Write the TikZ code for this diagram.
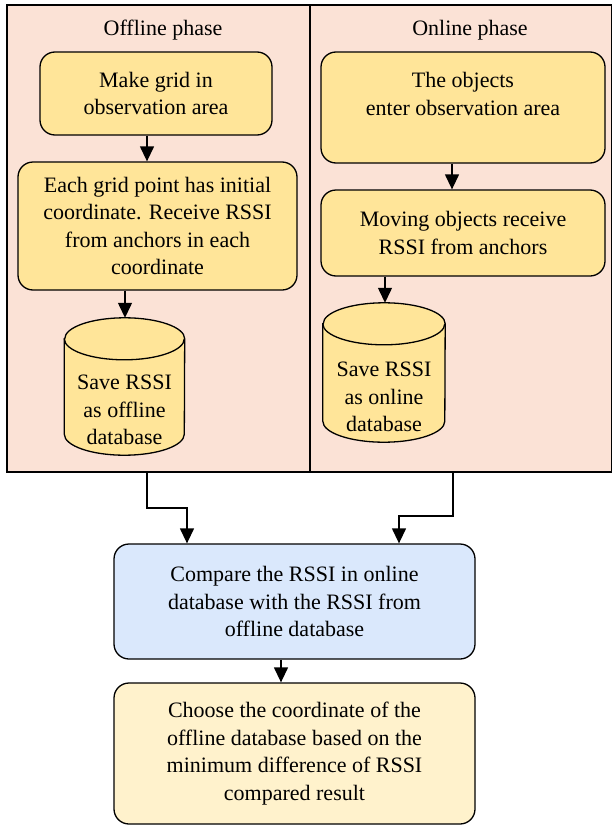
\documentclass[tikz,border=0pt]{standalone}
\usepackage{fontspec}
\setmainfont{Liberation Serif}
\usetikzlibrary{arrows.meta}
\definecolor{phasebg}{HTML}{FBE2D6}
\definecolor{stepfill}{HTML}{FFE599}
\definecolor{cmpfill}{HTML}{DAE8FC}
\definecolor{resfill}{HTML}{FFF2CC}
\tikzset{
  phase/.style={draw, line width=1.5pt, fill=phasebg, inner sep=0pt},
  proc/.style={draw, line width=1.3pt, rounded corners=15pt, fill=stepfill, align=center, inner sep=0pt},
  dbbox/.style={inner sep=0pt},
  dbline/.style={draw, line width=1.3pt, fill=stepfill},
  arr/.style={line width=1.3pt, -{Triangle[width=14pt,length=15pt]}},
}

\begin{document}
\begin{tikzpicture}[x=1pt, y=-1pt, every node/.style={font=\fontsize{22}{27.5}\selectfont}]
    \useasboundingbox (0,0) rectangle (612,827);
    \node[phase, minimum width=303, minimum height=467] (offline) at (158.5,238.5) {};
    \node[phase, minimum width=302, minimum height=467] (online) at (461,238.5) {};
    \node (offtitle) at (163,30) {Offline phase};
    \node (ontitle) at (470,30) {Online phase};

    \node[proc, minimum width=232, minimum height=83] (grid) at (156,93.5) {Make grid in\\observation area};
    \node[proc, minimum width=279, minimum height=128] (recoff) at (157.5,226) {Each grid point has initial\\coordinate. Receive RSSI\\from anchors in each\\coordinate};
    \node[dbbox, minimum width=120, minimum height=137] (dboff) at (124.5,386.5) {};
    \path[dbline] ([yshift=-21pt]dboff.north west) -- ([yshift=21pt]dboff.south west)
        arc[start angle=180, end angle=360, x radius=60pt, y radius=21pt]
        -- ([yshift=-21pt]dboff.north east)
        arc[start angle=0, end angle=180, x radius=60pt, y radius=21pt] -- cycle;
    \draw[line width=1.3pt] ([yshift=-21pt]dboff.north west) arc[start angle=180, end angle=360, x radius=60pt, y radius=21pt];
    \node[align=center] (dbofftext) at (124.5,410) {Save RSSI\\as offline\\database};

    \node[proc, minimum width=284, minimum height=111] (enter) at (463,107.5) {The objects\\enter observation area\\\mbox{}};
    \node[proc, minimum width=284, minimum height=86] (recon) at (463,233) {Moving objects receive\\RSSI from anchors};
    \node[dbbox, minimum width=122, minimum height=139] (dbon) at (384,372.5) {};
    \path[dbline] ([yshift=-21pt]dbon.north west) -- ([yshift=21pt]dbon.south west)
        arc[start angle=180, end angle=360, x radius=61pt, y radius=21pt]
        -- ([yshift=-21pt]dbon.north east)
        arc[start angle=0, end angle=180, x radius=61pt, y radius=21pt] -- cycle;
    \draw[line width=1.3pt] ([yshift=-21pt]dbon.north west) arc[start angle=180, end angle=360, x radius=61pt, y radius=21pt];
    \node[align=center] (dbontext) at (384,397) {Save RSSI\\as online\\database};

    \node[proc, fill=cmpfill, minimum width=361, minimum height=115] (cmp) at (294.5,601.5) {Compare the RSSI in online\\database with the RSSI from\\offline database};
    \node[proc, fill=resfill, minimum width=361, minimum height=141] (res) at (294.5,753.5) {Choose the coordinate of the\\offline database based on the\\minimum difference of RSSI\\compared result};

    \draw[arr] (147,0 |- grid.south) -- (147,0 |- recoff.north);
    \draw[arr] (125,0 |- recoff.south) -- (125,0 |- dboff.north);
    \draw[arr] (452,0 |- enter.south) -- (452,0 |- recon.north);
    \draw[arr] (385,0 |- recon.south) -- (385,0 |- dbon.north);
    \draw[arr] (147,0 |- offline.south) |- (187,508) -- (187,0 |- cmp.north);
    \draw[arr] (453,0 |- online.south) |- (399,516) -- (399,0 |- cmp.north);
    \draw[arr] (281,0 |- cmp.south) -- (281,0 |- res.north);
\end{tikzpicture}
\end{document}
